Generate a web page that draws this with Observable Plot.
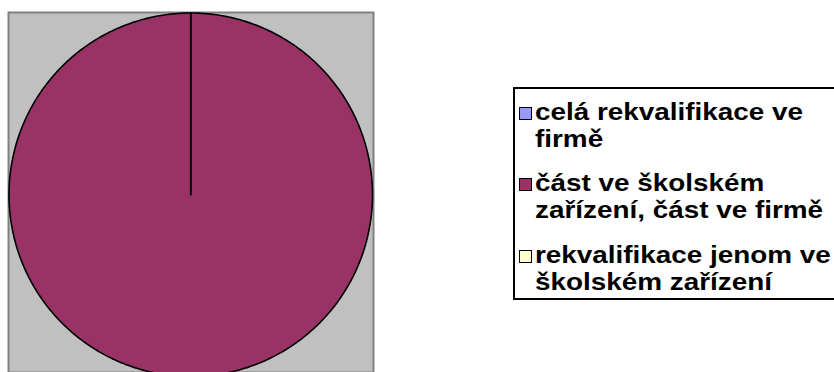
<!DOCTYPE html>
<html>
<head>
<meta charset="utf-8">
<script src="https://cdn.jsdelivr.net/npm/d3@7"></script>
<script src="https://cdn.jsdelivr.net/npm/@observablehq/plot@0.6"></script>
<style>
  html, body { margin: 0; padding: 0; background: #fff; overflow: hidden; }
  #wrap { position: relative; width: 834px; height: 372px; overflow: hidden; }
  #legend {
    position: absolute; left: 513px; top: 87px; width: 330px; height: 209px;
    border: 2px solid #000; background: #fff; box-sizing: content-box;
    font-family: "Liberation Sans", Arial, sans-serif; font-weight: bold;
    font-size: 24px; color: #000;
  }
  .item { position: absolute; left: 0; }
  .sw { position: absolute; left: 4px; width: 11px; height: 11px; border: 1.5px solid #000; }
  .tx { position: absolute; left: 20px; white-space: nowrap; line-height: 27px; transform-origin: 0 0; }
</style>
</head>
<body>
<div id="wrap"></div>
<script>
const categories = [
  "celá rekvalifikace ve firmě",
  "část ve školském zařízení, část ve firmě",
  "rekvalifikace jenom ve školském zařízení"
];
const values = [0, 100, 0];
const colors = ["#9999FF", "#993366", "#FFFFCC"];
const legendLines = [
  ["celá rekvalifikace ve", "firmě"],
  ["část ve školském", "zařízení, část ve firmě"],
  ["rekvalifikace jenom ve", "školském zařízení"]
];

const data = categories.map((c, i) => ({category: c, value: values[i]}));
const arcs = d3.pie().sort(null).value(d => d.value)(data);

// Build slice outlines (center -> arc -> center) from the pie layout
const pts = [];
arcs.forEach(a => {
  const cat = a.data.category;
  pts.push({category: cat, x: 0, y: 0});
  const span = a.endAngle - a.startAngle;
  const n = Math.max(1, Math.ceil(span / (Math.PI / 360)));
  for (let k = 0; k <= n; k++) {
    const t = a.startAngle + span * k / n;
    pts.push({category: cat, x: Math.sin(t), y: Math.cos(t)});
  }
});

const chart = Plot.plot({
  width: 834,
  height: 372,
  marginLeft: 8,
  marginRight: 461,
  marginTop: 12,
  marginBottom: 0,
  x: {domain: [-1, 1], range: [8.5, 372], axis: null},
  y: {domain: [-1, 1], range: [376, 12.5], axis: null},
  color: {domain: categories, range: colors},
  marks: [
    Plot.frame({fill: "#C0C0C0", stroke: "#808080", strokeWidth: 2}),
    Plot.line(pts, {x: "x", y: "y", z: "category", fill: "category",
      stroke: "#000", strokeWidth: 1.6, curve: "linear-closed"})
  ]
});
const wrap = document.getElementById("wrap");
wrap.appendChild(chart);

const legend = document.createElement("div");
legend.id = "legend";
wrap.appendChild(legend);
const tops = [8.6, 79.6, 151.6];
const txs = [];
categories.forEach((c, i) => {
  const item = document.createElement("div");
  item.className = "item";
  item.style.top = tops[i] + "px";
  const sw = document.createElement("div");
  sw.className = "sw";
  sw.style.top = "9px";
  sw.style.background = colors[i];
  const tx = document.createElement("div");
  tx.className = "tx";
  tx.innerHTML = legendLines[i].join("<br>");
  item.appendChild(sw);
  item.appendChild(tx);
  legend.appendChild(item);
  txs.push(tx);
});
// stretch text horizontally so the widest line spans like the reference
const w = txs[1].getBoundingClientRect().width;
const s = 288 / w;
txs.forEach(t => t.style.transform = `scaleX(${s})`);
</script>
</body>
</html>
